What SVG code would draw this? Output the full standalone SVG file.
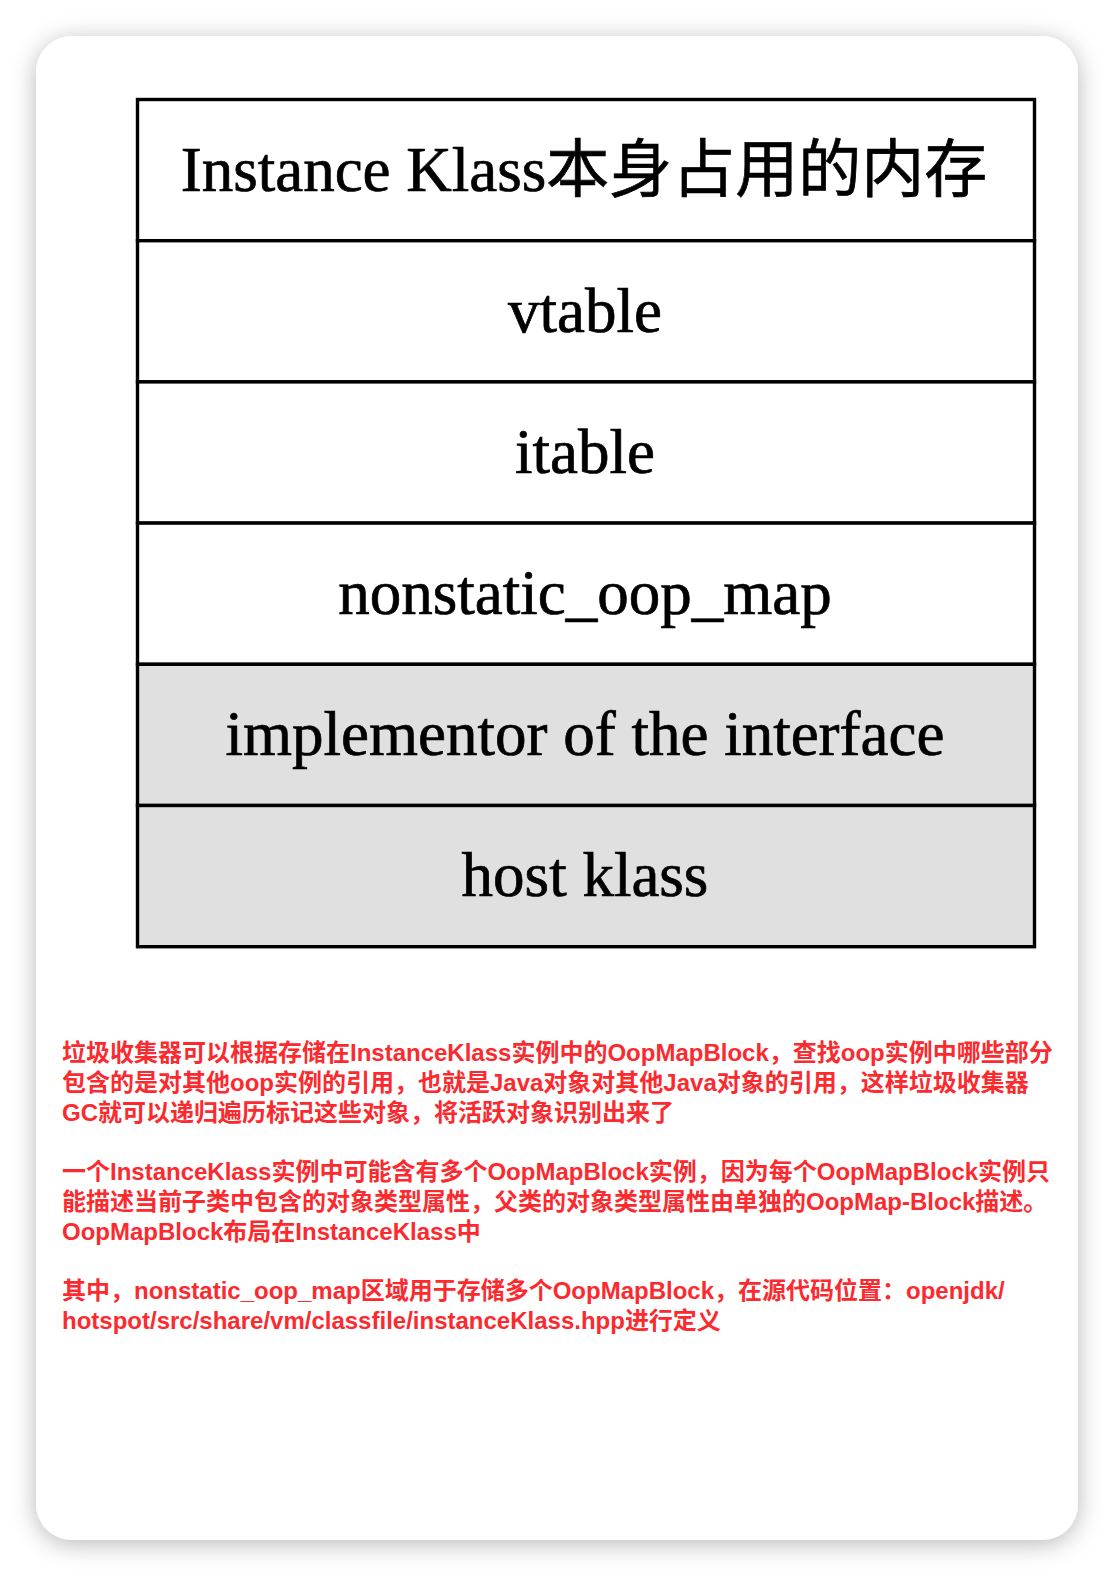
<svg xmlns="http://www.w3.org/2000/svg" width="1114" height="1576" viewBox="0 0 1114 1576">
  <style>
    .cell { stroke: #000; stroke-width: 3.4; }
    .white { fill: #ffffff; }
    .gray { fill: #e0e0e0; }
    .lbl { font-family: "Liberation Serif", "Noto Sans CJK SC", serif; font-size: 63px; fill: #000; stroke: #000; stroke-width: 0.7; text-anchor: middle; }
    .note { font-family: "Liberation Sans", "Noto Sans CJK SC", sans-serif; font-size: 24px; font-weight: bold; fill: #fb2a2f; }
  </style>
  <defs>
    <filter id="shadow" x="-10%" y="-10%" width="120%" height="120%">
      <feDropShadow dx="0" dy="4" stdDeviation="12" flood-color="#000" flood-opacity="0.28"/>
    </filter>
  </defs>
  <rect x="0" y="0" width="1114" height="1576" fill="#ffffff"/>
  <rect id="card" x="36" y="36" width="1042" height="1504" rx="36" ry="36" fill="#ffffff" filter="url(#shadow)"/>

  <g id="table">
    <g id="row-instance-klass">
      <rect class="cell white" x="137.5" y="99.5" width="897" height="141.2"/>
      <text class="lbl" x="584" y="191">Instance Klass本身占用的内存</text>
    </g>
    <g id="row-vtable">
      <rect class="cell white" x="137.5" y="240.7" width="897" height="141.2"/>
      <text class="lbl" x="585" y="332">vtable</text>
    </g>
    <g id="row-itable">
      <rect class="cell white" x="137.5" y="381.9" width="897" height="141.2"/>
      <text class="lbl" x="585" y="473">itable</text>
    </g>
    <g id="row-nonstatic-oop-map">
      <rect class="cell white" x="137.5" y="523.1" width="897" height="141.2"/>
      <text class="lbl" x="585" y="614">nonstatic_oop_map</text>
    </g>
    <g id="row-implementor">
      <rect class="cell gray" x="137.5" y="664.3" width="897" height="141.2"/>
      <text class="lbl" x="585" y="755">implementor of the interface</text>
    </g>
    <g id="row-host-klass">
      <rect class="cell gray" x="137.5" y="805.5" width="897" height="141.2"/>
      <text class="lbl" x="585" y="896">host klass</text>
    </g>
  </g>

  <g id="connectors"></g>

  <g id="notes">
    <text class="note" x="62" y="1061">垃圾收集器可以根据存储在InstanceKlass实例中的OopMapBlock，查找oop实例中哪些部分</text>
    <text class="note" x="62" y="1091">包含的是对其他oop实例的引用，也就是Java对象对其他Java对象的引用，这样垃圾收集器</text>
    <text class="note" x="62" y="1121">GC就可以递归遍历标记这些对象，将活跃对象识别出来了</text>
    <text class="note" x="62" y="1180">一个InstanceKlass实例中可能含有多个OopMapBlock实例，因为每个OopMapBlock实例只</text>
    <text class="note" x="62" y="1210">能描述当前子类中包含的对象类型属性，父类的对象类型属性由单独的OopMap-Block描述。</text>
    <text class="note" x="62" y="1240">OopMapBlock布局在InstanceKlass中</text>
    <text class="note" x="62" y="1299">其中，nonstatic_oop_map区域用于存储多个OopMapBlock，在源代码位置：openjdk/</text>
    <text class="note" x="62" y="1329">hotspot/src/share/vm/classfile/instanceKlass.hpp进行定义</text>
  </g>
</svg>
